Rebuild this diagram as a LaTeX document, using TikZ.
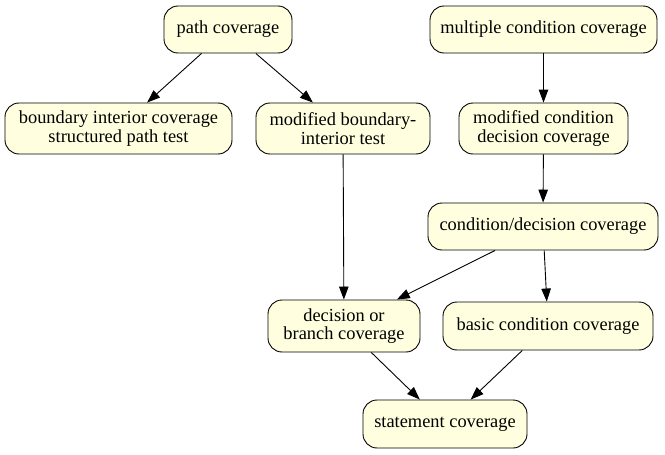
\documentclass[tikz,border=0pt]{standalone}
\usepackage{fontspec}
\setmainfont{Liberation Serif}
\usetikzlibrary{arrows.meta}
\definecolor{boxfill}{HTML}{FFFFE0}
\begin{document}
\begin{tikzpicture}[x=1pt, y=-1pt,
    box/.style={draw, line width=0.9pt, rounded corners=14pt, fill=boxfill,
      align=center, inner sep=0pt, font=\fontsize{18.4}{18.5}\selectfont},
    edge/.style={line width=0.9pt, -{Triangle[length=13pt, width=9.5pt]}}]
        \useasboundingbox (0,0) rectangle (665,455);
        \node [box, minimum width=128pt, minimum height=47pt] (path) at (228,29.5) {path coverage};
        \node [box, minimum width=227pt, minimum height=47pt] (multi) at (543.5,29.5) {multiple condition coverage};
        \node [box, minimum width=227pt, minimum height=51pt] (bound) at (118.5,128.5) {boundary interior coverage\\structured path test};
        \node [box, minimum width=174pt, minimum height=51pt] (modbound) at (343,128.5) {modified boundary-\\interior test};
        \node [box, minimum width=169pt, minimum height=51pt] (mcdc) at (543.5,128.5) {modified condition\\decision coverage};
        \node [box, minimum width=230pt, minimum height=47pt] (conddec) at (543,226.5) {condition/decision coverage};
        \node [box, minimum width=152pt, minimum height=52pt] (branch) at (344,326) {decision or\\branch coverage};
        \node [box, minimum width=210pt, minimum height=48pt] (basic) at (548,326) {basic condition coverage};
        \node [box, minimum width=164pt, minimum height=48pt] (stmt) at (445,424) {statement coverage};
        \draw [edge] (path) -- (bound);
        \draw [edge] (path) -- (modbound);
        \draw [edge] (multi) -- (mcdc);
        \draw [edge] (mcdc) -- (conddec);
        \draw [edge] (modbound) -- (branch);
        \draw [edge] (conddec) -- (branch);
        \draw [edge] (conddec) -- (basic);
        \draw [edge] (branch) -- (stmt);
        \draw [edge] (basic) -- (stmt);
      \end{tikzpicture}
\end{document}
